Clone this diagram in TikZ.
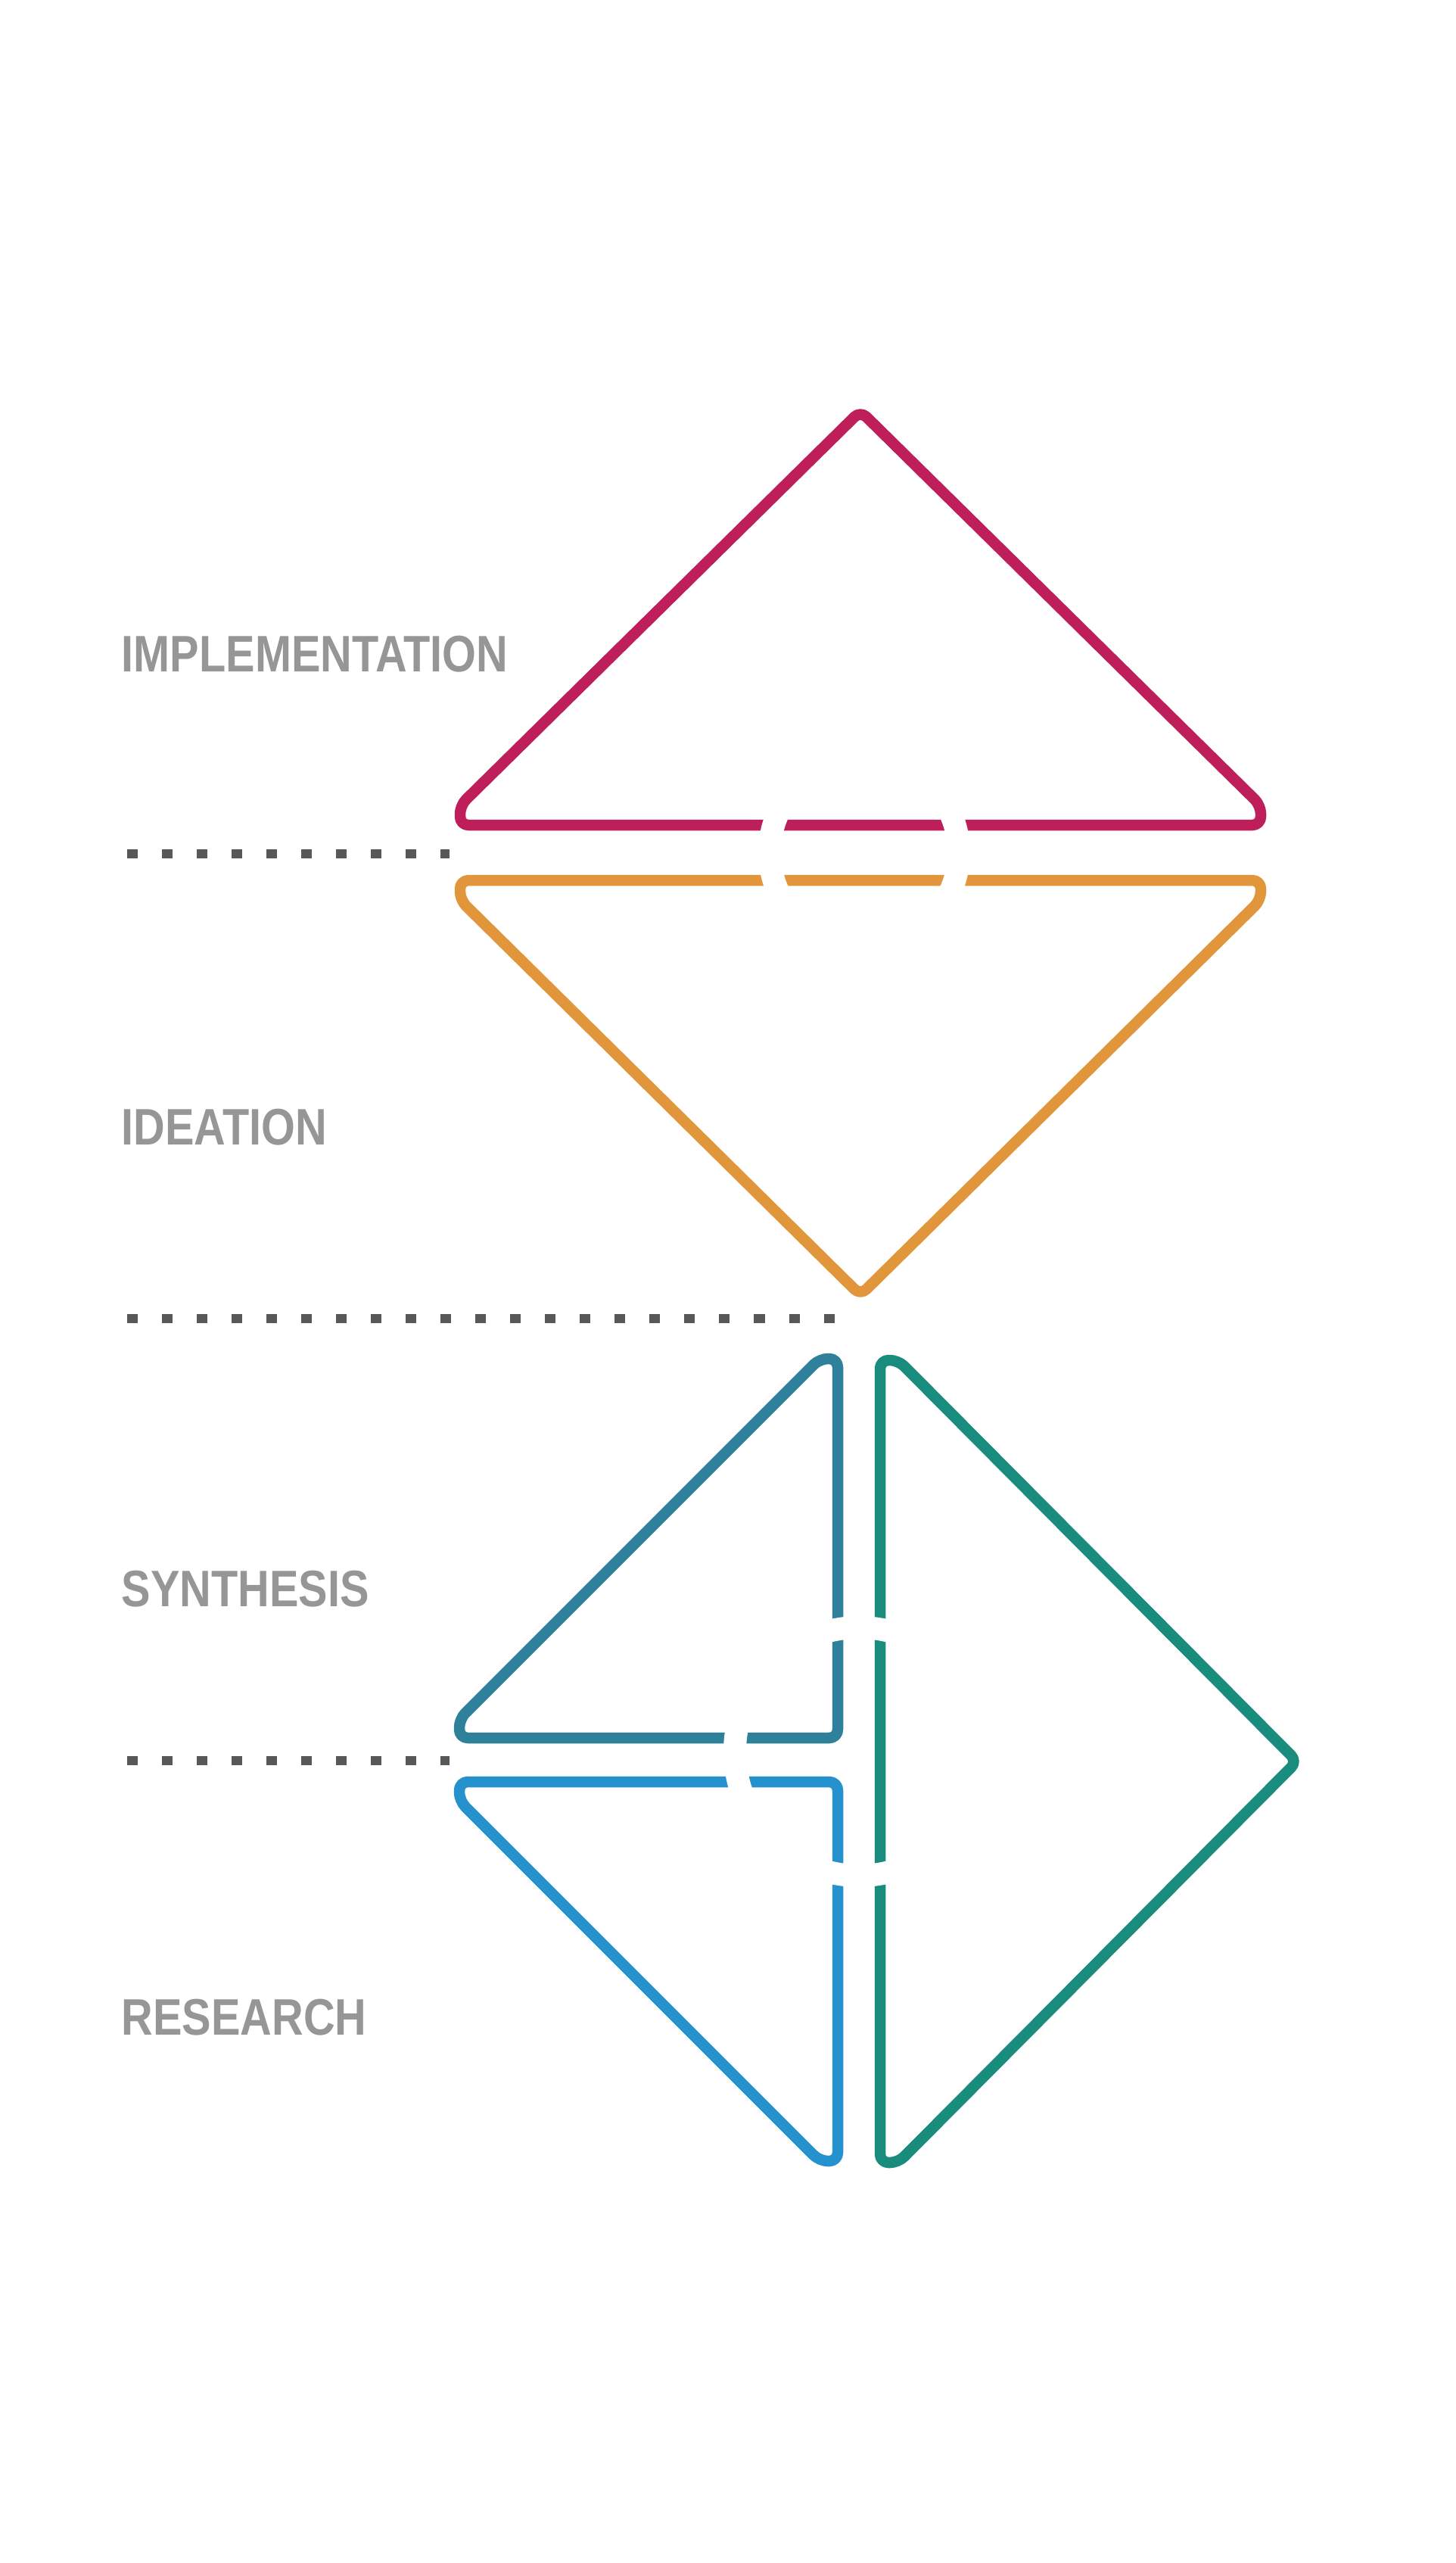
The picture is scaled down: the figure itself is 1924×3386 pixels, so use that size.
\documentclass[tikz,border=0pt]{standalone}
\usepackage{fontspec}
\setmainfont{Liberation Sans}
\definecolor{implred}{RGB}{190,30,90}
\definecolor{ideaorange}{RGB}{226,150,60}
\definecolor{synthteal}{RGB}{46,128,155}
\definecolor{resblue}{RGB}{37,145,205}
\definecolor{sidegreen}{RGB}{25,140,125}
\definecolor{labelgray}{RGB}{150,150,150}
\definecolor{divgray}{RGB}{88,88,88}
\begin{document}
\begin{tikzpicture}[x=0.01cm,y=-0.01cm,
  phase/.style={line width=0.145cm, line join=round, rounded corners=0.11cm},
  knockout/.style={draw=white, line width=0.3cm},
  divider/.style={draw=divgray, line width=0.12cm, dash pattern=on 0.14cm off 0.32cm},
  phaselabel/.style={anchor=base west, inner sep=0pt, text=labelgray,
    font=\bfseries\fontsize{19.3pt}{19.3pt}\selectfont}]
\useasboundingbox (0,0) rectangle (1924,3386);

% phase labels
\node[phaselabel] (limpl) at (160,887)  {\scalebox{0.85}[1]{IMPLEMENTATION}};
\node[phaselabel] (lidea) at (160,1512) {\scalebox{0.85}[1]{IDEATION}};
\node[phaselabel] (lsynt) at (160,2122) {\scalebox{0.85}[1]{SYNTHESIS}};
\node[phaselabel] (lres)  at (160,2688) {\scalebox{0.85}[1]{RESEARCH}};

% dividers between the phases
\coordinate (d1a) at (168,1128);  \coordinate (d1b) at (594,1128);
\coordinate (d2a) at (168,1742);  \coordinate (d2b) at (1106,1742);
\coordinate (d3a) at (168,2326);  \coordinate (d3b) at (594,2326);
\draw[divider] (d1a) -- (d1b);
\draw[divider] (d2a) -- (d2b);
\draw[divider] (d3a) -- (d3b);

% implementation: upward triangle with short upright ends
\draw[phase, implred] (1137,1090) -- (608,1090) -- (608,1064) -- (1137,543)
  -- (1666,1064) -- (1666,1090) -- cycle;
% ideation: downward triangle
\draw[phase, ideaorange] (1137,1163) -- (608,1163) -- (608,1189) -- (1137,1711)
  -- (1666,1189) -- (1666,1163) -- cycle;
% synthesis: left upper half
\draw[phase, synthteal] (850,2296) -- (607,2296) -- (607,2271) -- (1083,1795)
  -- (1107,1795) -- (1107,2296) -- cycle;
% research: left lower half
\draw[phase, resblue] (850,2354) -- (607,2354) -- (607,2379) -- (1083,2855)
  -- (1107,2855) -- (1107,2354) -- cycle;
% right half spanning both
\draw[phase, sidegreen] (1163,2327) -- (1163,1797) -- (1187,1797) -- (1714,2327)
  -- (1187,2857) -- (1163,2857) -- cycle;

% gaps cut by the loops
\draw[knockout] (1142,1126) circle[radius=125];
\draw[knockout] (1135,2314) circle[radius=164];
\end{tikzpicture}
\end{document}
